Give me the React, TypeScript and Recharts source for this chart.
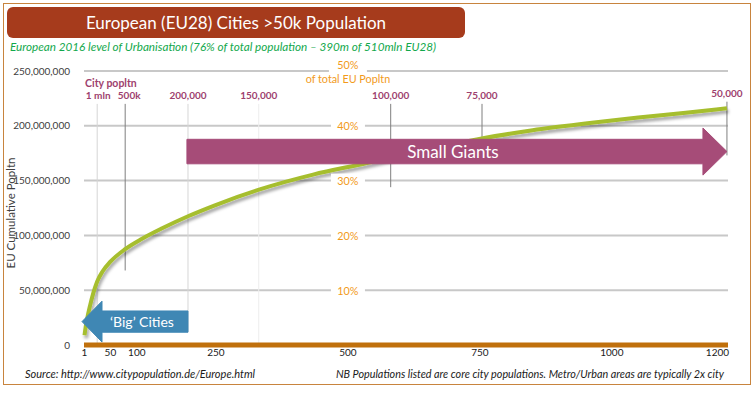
import React from 'react';
import { LineChart, Line, XAxis, YAxis, CartesianGrid, ReferenceLine, ReferenceArea, ReferenceDot } from 'recharts';

// city rank (largest first) vs cumulative population, millions
const cityRank = [1, 3, 6, 11, 18, 25, 35, 50, 78, 110, 148, 197, 248, 333, 434, 536, 600, 680, 744, 850, 958, 1050, 1140, 1218];
const cumPopMln = [9, 16, 24, 35, 48, 58, 67, 76, 87.5, 97, 106.5, 117.5, 127.5, 142, 155.5, 166, 173, 181, 187.5, 196, 202.5, 207.5, 212, 216];

const xTicks = [1, 50, 100, 250, 500, 750, 1000, 1200];
const yTicks = [0, 50e6, 100e6, 150e6, 200e6, 250e6];

// share of total EU population, shown on the gridlines
const pctLabels = ['10%', '20%', '30%', '40%', '50%'];
const pctLevels = [50e6, 100e6, 150e6, 200e6, 250e6];

// city size markers
const markerLabels = ['1 mln', '500k', '200,000', '150,000', '100,000', '75,000', '50,000'];
const markerRanks = [25, 78, 197, 331, 581, 754, 1218];
const markerTopMln = [220, 220, 220, 220, 220, 220, 222];
const markerBottomMln = [0, 68, 12, 0, 144, 188, 173];
const markerTone = ['light', 'dark', 'light', 'faint', 'dark', 'dark', 'dark'];
const markerShift = [1, 4, 0, 0, 0, 0, 0];

const data = cityRank.map((r, i) => ({ rank: r, pop: cumPopMln[i] * 1e6 }));

const toneColor: Record<string, string> = { light: '#D6D6D6', dark: '#7F7F7F', faint: '#EDEDED' };
const FONT = 'Lato, "Open Sans", sans-serif';
const PURPLE = '#9E3F6E';
const ORANGE = '#F29A1A';
const MARGIN = { top: 71, right: 26, bottom: 23, left: 0 };

function arrowShape(dir: 'left' | 'right', fill: string, text: string, fontSize: number) {
  return (p: any) => {
    const { x, y, width, height } = p;
    const head = dir === 'left' ? 20 : 24;
    const t = y + height * 0.24;
    const b = y + height * 0.76;
    const cy = y + height / 2;
    let pts;
    if (dir === 'left') {
      const tip = x - 2;
      const base = tip + head;
      pts = `${tip},${cy} ${base},${y} ${base},${t} ${x + width},${t} ${x + width},${b} ${base},${b} ${base},${y + height}`;
    } else {
      const tip = x + width;
      const base = tip - head;
      pts = `${x},${t} ${base},${t} ${base},${y} ${tip},${cy} ${base},${y + height} ${base},${b} ${x},${b}`;
    }
    const tx = dir === 'left' ? x + width / 2 + 6 : x + width / 2 - 4;
    return (
      <g>
        <polygon points={pts} fill={fill} stroke={fill} strokeWidth={1} />
        <text x={tx} y={cy} textAnchor="middle" dominantBaseline="central" fill="#fff" fontSize={fontSize} fontFamily={FONT}>
          {text}
        </text>
      </g>
    );
  };
}

function pctShape(label: string, top: boolean) {
  return (p: any) => {
    const { cx, cy } = p;
    if (top) {
      return (
        <g>
          <rect x={cx - 19} y={cy - 12} width={38} height={14} fill="#fff" />
          <text x={cx} y={cy - 7} textAnchor="middle" dominantBaseline="central" fill={ORANGE} fontSize={10.8} fontFamily={FONT}>{label}</text>
          <text x={cx} y={cy + 7} textAnchor="middle" dominantBaseline="central" fill={ORANGE} fontSize={10.8} fontFamily={FONT}>of total EU Popltn</text>
        </g>
      );
    }
    return (
      <g>
        <rect x={cx - 17} y={cy - 7} width={34} height={14} fill="#fff" />
        <text x={cx} y={cy} textAnchor="middle" dominantBaseline="central" fill={ORANGE} fontSize={10.8} fontFamily={FONT}>{label}</text>
      </g>
    );
  };
}

const cityPopltnShape = (p: any) => (
  <text x={p.cx} y={p.cy} dominantBaseline="central" fill={PURPLE} fontSize={10.5} fontWeight={700} fontFamily={FONT}>
    City popltn
  </text>
);

const xAxisProps = { type: 'number' as const, dataKey: 'rank', domain: [0, 1220], ticks: xTicks, interval: 0, tickLine: false, tickSize: 4, tickMargin: 0 };
const yAxisProps = { type: 'number' as const, domain: [0, 250e6], ticks: yTicks, width: 84, axisLine: false, tickLine: false, tickMargin: 8 };

export default function App() {
  return (
    <div style={{ position: 'absolute', left: 0, top: 0, width: 754, height: 398, background: '#fff', fontFamily: FONT, overflow: 'hidden' }}>
      <div style={{ position: 'absolute', left: 3, top: 3, width: 746, height: 380, border: '1.5px solid #C8843E' }} />
      <div style={{ position: 'absolute', left: 7, top: 7, width: 458, height: 31, background: '#A63B1C', borderRadius: 6, color: '#fff', fontSize: 17, lineHeight: '31px', textAlign: 'center' }}>
        European (EU28) Cities &gt;50k Population
      </div>
      <div style={{ position: 'absolute', left: 10, top: 39, color: '#12A84C', fontSize: 11.7, fontStyle: 'italic', whiteSpace: 'nowrap' }}>
        European 2016 level of Urbanisation (76% of total population – 390m of 510mln EU28)
      </div>
      <div style={{ position: 'absolute', left: 11, top: 213, transform: 'translate(-50%, -50%) rotate(-90deg)', fontSize: 11.5, lineHeight: '12px', color: '#404040', whiteSpace: 'nowrap' }}>
        EU Cumulative Popltn
      </div>

      <div style={{ position: 'absolute', left: 0, top: 0 }}>
        <LineChart width={754} height={398} data={data} margin={MARGIN}>
          <defs>
            <filter id="lineShadow" x="-5%" y="-10%" width="115%" height="130%">
              <feDropShadow dx="1.5" dy="3" stdDeviation="1.5" floodColor="#000" floodOpacity="0.35" />
            </filter>
          </defs>
          <CartesianGrid vertical={false} stroke="#C8C8C8" strokeWidth={2} />
          <XAxis
            {...xAxisProps}
            axisLine={{ stroke: '#C0700C', strokeWidth: 5 }}
            tick={{ fontSize: 10, fill: '#1a1a1a', fontFamily: FONT }}
          />
          <YAxis
            {...yAxisProps}
            tickFormatter={(v: number) => v.toLocaleString('en-US')}
            tick={{ fontSize: 10, fill: '#404040', fontFamily: FONT }}
          />
          {markerRanks.map((r, i) => (
            <ReferenceLine
              key={markerLabels[i]}
              segment={[{ x: r, y: markerTopMln[i] * 1e6 }, { x: r, y: markerBottomMln[i] * 1e6 }]}
              stroke={toneColor[markerTone[i]]}
              strokeWidth={1}
              ifOverflow="visible"
              label={{ value: markerLabels[i], position: 'top', offset: 5, dx: markerShift[i], fill: PURPLE, fontSize: 10, fontWeight: 700, fontFamily: FONT }}
            />
          ))}
          <ReferenceDot x={2} y={239e6} ifOverflow="visible" shape={cityPopltnShape} />
          <Line
            type="monotone"
            dataKey="pop"
            stroke="#A6BE2E"
            strokeWidth={4}
            dot={false}
            activeDot={false}
            filter="url(#lineShadow)"
            isAnimationActive={false}
          />
        </LineChart>
      </div>

      {/* annotation layer drawn above the curve, same scales */}
      <div style={{ position: 'absolute', left: 0, top: 0 }}>
        <LineChart width={754} height={398} data={data} margin={MARGIN}>
          <XAxis {...xAxisProps} axisLine={false} tick={false} />
          <YAxis {...yAxisProps} tick={false} />
          <Line dataKey="pop" stroke="none" dot={false} activeDot={false} isAnimationActive={false} />
          <ReferenceArea x1={0} x2={197} y1={2.7e6} y2={40e6} ifOverflow="visible" shape={arrowShape('left', '#3F87B4', '‘Big’ Cities', 14)} />
          <ReferenceArea x1={195} x2={1218} y1={155e6} y2={198e6} ifOverflow="visible" shape={arrowShape('right', '#A64C78', 'Small Giants', 17)} />
          {pctLabels.map((l, i) => (
            <ReferenceDot key={l} x={500} y={pctLevels[i]} ifOverflow="visible" shape={pctShape(l, i === pctLabels.length - 1)} />
          ))}
        </LineChart>
      </div>

      <div style={{ position: 'absolute', left: 25, top: 367, fontSize: 11, fontStyle: 'italic', color: '#1a1a1a', whiteSpace: 'nowrap' }}>
        Source: http://www.citypopulation.de/Europe.html
      </div>
      <div style={{ position: 'absolute', right: 30, top: 367, fontSize: 10.8, fontStyle: 'italic', color: '#1a1a1a', whiteSpace: 'nowrap' }}>
        NB Populations listed are core city populations. Metro/Urban areas are typically 2x city
      </div>
    </div>
  );
}
